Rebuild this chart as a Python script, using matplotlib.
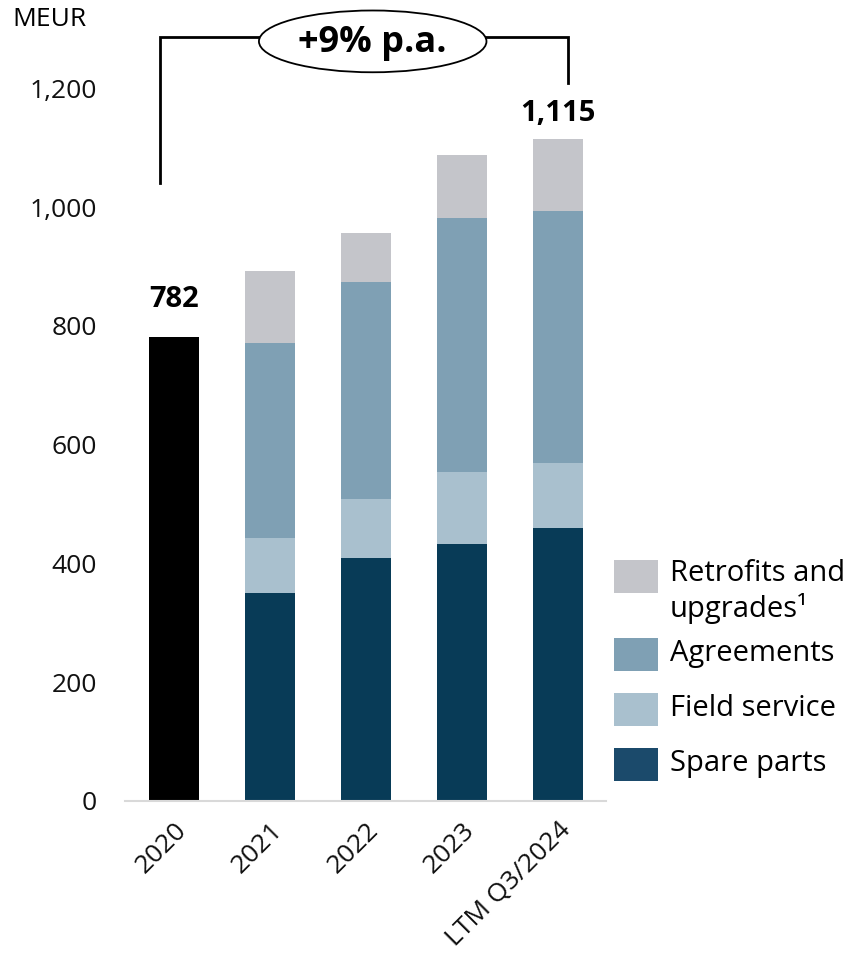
import matplotlib
matplotlib.use('Agg')
import matplotlib.pyplot as plt
from matplotlib.patches import Ellipse, Rectangle

plt.rcParams['font.family'] = ['Open Sans', 'DejaVu Sans']

periods = ['2020', '2021', '2022', '2023', 'LTM Q3/2024']
total_2020 = 782
# stacked segments for 2021 onwards (MEUR)
spare_parts = [350, 409, 433, 460]
field_service = [93, 99, 121, 109]
agreements = [328, 366, 427, 424]
retrofits = [121, 82, 107, 122]
growth_label = '+9% p.a.'

series = [
  ('Spare parts', spare_parts, '#083b57', '#1b4a6b'),
  ('Field service', field_service, '#a9c0ce', '#a9c0ce'),
  ('Agreements', agreements, '#7fa0b4', '#7fa0b4'),
  ('Retrofits and\nupgrades¹', retrofits, '#c4c5ca', '#c4c5ca'),
]

fig = plt.figure(figsize=(8.54, 9.56), dpi=100)
ax = fig.add_axes([125 / 854, 1 - 801 / 956, 481 / 854, 781 / 956])

width = 0.52
ax.bar(0, total_2020, width=width, color='black')
ax.annotate(f'{total_2020:,}', (0, total_2020), xytext=(0, 16), textcoords='offset points',
            ha='center', va='bottom', fontsize=21, fontweight='bold')

xs = list(range(1, len(periods)))
bottoms = [0] * len(xs)
for name, vals, color, _ in series:
  ax.bar(xs, vals, width=width, bottom=bottoms, color=color)
  bottoms = [b + v for b, v in zip(bottoms, vals)]

last_total = bottoms[-1]
ax.annotate(f'{last_total:,}', (xs[-1], last_total), xytext=(0, 8), textcoords='offset points',
            ha='center', va='bottom', fontsize=21, fontweight='bold')

ax.set_xlim(-0.51, 4.5)
ax.set_ylim(0, 1315)
ax.set_yticks(range(0, 1201, 200))
ax.set_yticklabels([f'{v:,}' for v in range(0, 1201, 200)])
ax.set_xticks(range(len(periods)))
ax.set_xticklabels(periods, rotation=45, ha='right', va='top', rotation_mode='anchor')
ax.tick_params(axis='both', length=0, labelsize=19, colors='#111111')
ax.tick_params(axis='y', pad=20)
ax.tick_params(axis='x', pad=12)
for s in ['top', 'right', 'left']:
  ax.spines[s].set_visible(False)
ax.spines['bottom'].set_color('#d9d9d9')
ax.spines['bottom'].set_linewidth(1.5)

# CAGR bracket from 2020 to the latest period
bracket_y = 1286
ax.plot([-0.15, -0.15, 4.1, 4.1], [1040, bracket_y, bracket_y, 1209],
        color='black', lw=2, clip_on=False, solid_joinstyle='miter')
ax.add_patch(Ellipse((2.07, 1279), 2.37, 104, facecolor='white', edgecolor='black',
                     lw=1.3, clip_on=False, zorder=3))
ax.text(2.07, 1277, growth_label, ha='center', va='center', fontsize=26,
        fontweight='bold', zorder=4)

fig.text(12 / 854, 1 - 20 / 956, 'MEUR', ha='left', va='center', fontsize=19)

# legend, top entry first
legend_rows = [(576, 3), (654, 2), (709, 1), (764, 0)]
for y_px, idx in legend_rows:
  name, _, _, lcolor = series[idx]
  fig.patches.append(Rectangle((614 / 854, 1 - (y_px + 16.5) / 956), 44 / 854, 33 / 956,
                               facecolor=lcolor, transform=fig.transFigure))
  if '\n' in name:
    fig.text(670 / 854, 1 - (y_px - 17) / 956, name, ha='left', va='top', fontsize=21,
             linespacing=1.2)
  else:
    fig.text(670 / 854, 1 - y_px / 956, name, ha='left', va='center', fontsize=21)

fig.savefig('out.png', dpi=100)
